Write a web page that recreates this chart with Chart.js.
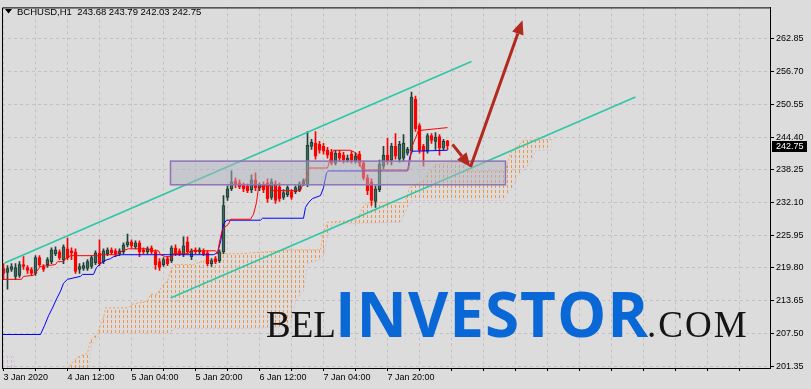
<!DOCTYPE html>
<html>
<head>
<meta charset="utf-8">
<script src="https://cdn.jsdelivr.net/npm/chart.js@4.4.0/dist/chart.umd.min.js"></script>
<style>
  html, body { margin: 0; padding: 0; background: #dcdcdc; }
  #c { display: block; }
</style>
</head>
<body>
<canvas id="c" width="811" height="389"></canvas>
<script>
// BCHUSD H1 candles
const opens = [219.69,218.95,219.50,218.21,218.39,220.43,219.87,219.50,218.76,221.73,
  220.06,220.43,220.98,222.47,222.84,221.36,223.39,223.02,222.84,219.50,
  219.69,219.69,220.06,220.80,222.65,220.98,222.47,223.21,223.02,222.47,
  222.84,224.13,224.69,223.76,224.50,223.21,222.84,223.58,222.84,220.98,
  220.43,221.54,221.17,223.58,223.02,222.28,224.69,221.91,223.21,222.84,
  223.02,222.65,220.61,221.54,221.17,222.84,233.03,234.69,236.18,235.80,
  235.43,235.25,234.51,236.36,234.88,235.43,235.80,233.03,235.62,235.06,
  233.03,233.58,234.14,234.14,234.51,235.62,235.43,242.66,243.22,243.03,
  242.66,241.92,241.55,239.51,241.36,240.99,240.07,241.18,239.88,241.18,
  239.51,236.73,235.99,232.29,234.51,238.95,240.99,240.07,242.66,240.25,
  240.44,241.36,241.73,251.55,246.55,242.66,241.73,244.70,243.59,244.51,
  242.29,243.68];
const highs = [220.61,220.24,220.61,220.61,220.98,221.91,220.24,219.87,222.10,222.10,
  220.43,221.73,223.58,223.76,223.21,224.13,225.43,223.58,223.39,220.61,
  220.80,221.36,222.10,223.02,225.06,223.39,223.58,223.58,223.39,223.39,
  224.50,226.17,225.06,224.88,224.88,223.58,223.76,223.95,223.21,221.54,
  221.73,221.91,223.95,224.13,223.39,225.62,225.62,223.39,223.58,223.58,
  223.39,223.02,221.54,221.91,223.21,233.40,235.25,238.03,236.73,236.36,
  235.80,235.62,237.29,237.66,235.80,235.99,236.55,236.55,236.18,235.80,
  234.51,235.25,234.51,235.25,235.99,236.55,245.44,243.96,245.44,243.59,
  243.22,242.47,242.10,241.92,241.92,241.55,240.99,241.73,241.36,241.73,
  239.88,237.29,236.55,235.25,240.07,242.66,244.14,243.22,245.07,243.59,
  244.88,242.47,252.85,252.11,246.92,243.03,245.07,245.07,245.25,244.88,
  243.96,243.79];
const lows = [217.65,215.80,219.13,217.65,218.02,219.50,218.76,218.39,218.39,220.06,
  219.13,219.87,220.61,222.10,221.36,220.61,221.36,221.36,218.76,218.76,
  219.32,219.32,219.69,220.43,220.24,220.61,222.10,222.28,221.91,222.10,
  222.47,223.76,223.58,223.39,221.91,222.47,222.47,222.47,219.50,219.32,
  220.06,220.24,220.80,222.10,222.10,221.91,222.47,221.36,222.47,222.47,
  222.10,220.24,220.06,220.61,220.80,222.47,232.47,234.32,234.88,234.69,
  234.14,233.95,233.95,234.32,234.32,233.95,232.10,232.66,231.91,232.29,
  232.66,233.21,232.66,233.77,234.14,235.25,235.06,242.10,240.25,241.36,
  241.18,240.44,239.14,239.14,239.88,239.51,239.70,239.51,239.51,238.95,
  236.36,233.58,231.54,231.17,234.14,238.40,239.32,239.14,240.25,239.70,
  239.88,240.99,241.36,245.44,241.36,238.95,241.36,243.22,242.10,240.99,
  241.92,242.03];
const closes = [218.76,219.69,220.06,219.87,220.43,220.06,219.32,218.76,221.73,220.43,
  219.50,221.36,223.21,223.21,221.73,223.76,221.73,222.65,219.13,220.06,
  220.24,220.98,221.73,222.65,220.61,223.02,223.21,222.65,222.47,223.02,
  224.13,224.69,223.95,224.50,222.84,222.84,223.39,222.84,220.43,219.87,
  221.36,220.61,223.58,222.47,222.47,223.95,222.84,223.02,222.84,223.21,
  222.47,220.61,221.17,220.98,222.84,231.54,234.69,235.99,235.43,235.06,
  234.69,234.32,236.36,234.88,235.43,234.51,232.84,235.99,232.47,232.84,
  233.95,234.88,233.03,234.88,235.62,236.18,242.84,243.40,240.81,241.92,
  241.73,240.99,239.51,241.36,240.44,240.07,240.44,240.07,240.81,239.51,
  236.73,234.32,232.47,234.69,239.32,240.99,239.88,242.66,240.81,243.03,
  243.22,242.10,251.92,245.99,241.92,241.73,244.70,243.77,244.33,242.29,
  243.59,242.75];

// Ichimoku lines, [bar index, price] break points
const tenkan = [[-0.5,217.65],[4.5,217.65],[5,218.21],[7.5,218.39],[8.25,219.13],[9.25,220.06],[13,220.43],[13.5,220.98],[15,220.98],[15.5,221.54],[16.75,222.10],[23.5,222.10],[24.25,222.28],[28,222.28],[28.75,222.47],[29.75,223.02],[31.25,223.39],[36.25,223.39],[36.75,223.02],[38.75,223.02],[39.25,222.28],[40.5,221.91],[42.25,221.91],[42.5,222.47],[46.25,222.47],[46.75,223.02],[53,223.02],[53.5,222.47],[54,224.69],[54.75,227.10],[56.25,228.02],[56.75,228.95],[61.75,228.95],[62.5,229.88],[63.25,232.10],[63.75,234.88],[64.75,235.25],[66.75,235.25],[67,234.32],[74.25,234.32],[74.75,235.43],[75.75,236.73],[76.25,238.58],[81,238.58],[81.75,240.44],[82.5,241.92],[86.75,241.92],[88.25,241.36],[88.75,239.88],[89.75,238.21],[101.25,238.21],[102.25,242.84],[103.75,245.62],[108.5,245.99],[111,246.18]];
const kijun = [[-0.5,207.28],[9.25,207.28],[10.25,208.94],[11.25,210.80],[12.25,212.28],[13.25,213.95],[14.25,215.43],[15,216.91],[16,217.65],[19.25,218.21],[19.75,218.58],[22.5,218.58],[23.25,219.87],[24.25,220.61],[25.25,221.17],[26.75,221.54],[27.5,221.91],[29.25,222.28],[52.5,222.28],[53.5,222.65],[54.25,224.69],[55,228.02],[55.75,228.77],[64.25,228.77],[64.75,229.14],[75,229.14],[75.5,231.17],[76.25,232.10],[77.25,232.84],[79.25,233.40],[80,234.88],[80.75,237.66],[81.25,238.03],[101,238.03],[101.5,240.44],[102,241.73],[111,241.92]];
const spanA = [[-0.5,198.76],[14.25,199.68],[18.5,203.02],[21,203.76],[21.75,206.17],[23.5,207.46],[25,210.43],[25.5,212.28],[31,212.28],[32.5,213.02],[36,213.57],[36.75,214.87],[38.5,214.87],[40,216.72],[41,217.28],[41.75,219.13],[42.5,220.43],[47.5,220.43],[49.25,220.98],[52.5,221.36],[53.5,222.47],[59.25,222.47],[66,222.84],[71,223.21],[79.25,223.21],[80,226.54],[81,228.40],[88.5,228.77],[89.75,231.17],[91,232.10],[100.5,232.10],[101.5,234.88],[105,236.18],[106,237.66],[108,239.14],[111,239.51],[115,239.88],[116,238.03],[125.5,238.03],[126.75,241.36],[128,242.29],[130,243.77],[137,243.96]];
const spanB = [[-0.5,203.20],[2.5,203.20],[3,199.20],[21,199.20],[22,205.24],[24.25,207.46],[41.75,207.46],[42.5,208.39],[59.25,208.39],[71.75,208.76],[73,213.57],[75,215.43],[76,220.61],[79.25,221.36],[80.25,222.47],[81,225.80],[82.25,228.02],[99.25,228.40],[100.5,230.25],[101.75,232.47],[125,232.47],[127.5,235.25],[128.5,237.10],[131.75,239.51],[133,241.92],[137,241.92]];

// drawn objects
const upperChannel = [[0.25,220.71],[117,258.59]];
const lowerChannel = [[41.75,214.13],[158,251.92]];
const zoneX = [41.75, 125.5];
const zoneY = [235.43, 239.88];
const arrowShort = [[112.25,243.03],[116.75,238.77]];
const arrowLong = [[116.75,238.77],[129.75,266.37]];

const priceTicks = [201.35,207.50,213.65,219.80,225.95,232.10,238.25,244.40,250.55,256.70,262.85];
const xGrid = [0,8,16,24,32,40,48,56,64,72,80,88,96,104,112,120,128,136,144,152,160,168,176,184];
const xTickIdx = [0,16,32,48,64,80,96];
const xTickLabels = ['3 Jan 2020','4 Jan 12:00','5 Jan 04:00','5 Jan 20:00','6 Jan 12:00','7 Jan 04:00','7 Jan 20:00'];
const headerText = 'BCHUSD,H1  243.68 243.79 242.03 242.75';
const lastPrice = closes[closes.length - 1];

const FONT = '"Liberation Sans", Arial, sans-serif';
const cv = document.getElementById('c');
const ctx0 = cv.getContext('2d');

// vertical dotted hatch, one column per bar
function hatch(color) {
  const t = document.createElement('canvas');
  t.width = 4; t.height = 5;
  const g = t.getContext('2d');
  g.fillStyle = color;
  g.fillRect(3, 0, 1, 3);
  return ctx0.createPattern(t, 'repeat');
}
const pts = (a) => a.map(p => ({x: p[0], y: p[1]}));
const isUp = (i) => closes[i] >= opens[i];

function arrow(ctx, x, y, seg) {
  const x0 = x.getPixelForValue(seg[0][0]), y0 = y.getPixelForValue(seg[0][1]);
  const x1 = x.getPixelForValue(seg[1][0]), y1 = y.getPixelForValue(seg[1][1]);
  const ang = Math.atan2(y1 - y0, x1 - x0);
  const len = 14, half = 6;
  const bx = x1 - Math.cos(ang) * len, by = y1 - Math.sin(ang) * len;
  ctx.strokeStyle = '#b3291f';
  ctx.fillStyle = '#b3291f';
  ctx.lineWidth = 3;
  ctx.beginPath(); ctx.moveTo(x0, y0); ctx.lineTo(bx, by); ctx.stroke();
  ctx.beginPath();
  ctx.moveTo(x1, y1);
  ctx.lineTo(bx + Math.sin(ang) * half, by - Math.cos(ang) * half);
  ctx.lineTo(bx - Math.sin(ang) * half, by + Math.cos(ang) * half);
  ctx.closePath(); ctx.fill();
}

const overlay = {
  id: 'overlay',
  beforeDraw(chart) {
    const c = chart.ctx;
    c.save(); c.fillStyle = '#dcdcdc'; c.fillRect(0, 0, chart.width, chart.height); c.restore();
  },
  afterDatasetsDraw(chart) {
    const {ctx, chartArea: a, scales: {x, y}} = chart;
    ctx.save();
    ctx.beginPath(); ctx.rect(a.left, a.top, a.right - a.left, a.bottom - a.top); ctx.clip();
    // support zone
    const rx0 = x.getPixelForValue(zoneX[0]), rx1 = x.getPixelForValue(zoneX[1]);
    const ry0 = y.getPixelForValue(zoneY[1]), ry1 = y.getPixelForValue(zoneY[0]);
    ctx.fillStyle = 'rgba(178,178,192,0.5)';
    ctx.fillRect(rx0, ry0, rx1 - rx0, ry1 - ry0);
    ctx.strokeStyle = '#8e74b4'; ctx.lineWidth = 1.5;
    ctx.strokeRect(rx0, ry0, rx1 - rx0, ry1 - ry0);
    arrow(ctx, x, y, arrowShort);
    arrow(ctx, x, y, arrowLong);
    // watermark
    ctx.textBaseline = 'alphabetic';
    ctx.fillStyle = '#151515';
    ctx.font = '37px "Liberation Serif", serif';
    ctx.fillText('BEL', 266, 337);
    ctx.letterSpacing = '2px';
    ctx.fillText('.COM', 647, 337);
    ctx.letterSpacing = '1px';
    ctx.fillStyle = '#0a68d6';
    ctx.font = 'bold 62px "Open Sans", sans-serif';
    ctx.fillText('INVESTOR', 335, 337);
    ctx.letterSpacing = '0px';
    ctx.restore();
  },
  afterDraw(chart) {
    const {ctx, chartArea: a, scales: {y}} = chart;
    ctx.save();
    ctx.strokeStyle = '#000'; ctx.lineWidth = 1;
    ctx.beginPath();
    ctx.moveTo(a.left + 0.5, a.bottom); ctx.lineTo(a.left + 0.5, a.top + 0.5); ctx.lineTo(a.right, a.top + 0.5);
    ctx.stroke();
    // header
    ctx.fillStyle = '#000';
    ctx.beginPath(); ctx.moveTo(5, 9); ctx.lineTo(12, 9); ctx.lineTo(8.5, 13.5); ctx.closePath(); ctx.fill();
    ctx.font = '9.5px ' + FONT;
    ctx.textBaseline = 'alphabetic';
    ctx.fillText(headerText, 17, 15);
    // last price box
    const py = Math.round(y.getPixelForValue(lastPrice));
    ctx.fillStyle = '#000';
    ctx.fillRect(a.right + 2, py - 5, 35, 11);
    ctx.fillStyle = '#fff';
    ctx.font = '9px ' + FONT;
    ctx.textBaseline = 'middle';
    ctx.fillText(lastPrice.toFixed(2), a.right + 6, py + 0.5);
    ctx.restore();
  }
};

new Chart(ctx0, {
  type: 'bar',
  data: {
    datasets: [
      { type: 'line', data: pts(spanA), borderColor: '#f4a460', borderWidth: 1, borderDash: [2, 2],
        pointRadius: 0, fill: { target: 1, above: hatch('#ee9548'), below: hatch('#d4b0d4') }, order: 20 },
      { type: 'line', data: pts(spanB), borderColor: '#d8bfd8', borderWidth: 1, borderDash: [2, 2],
        pointRadius: 0, fill: false, order: 19 },
      { type: 'bar', data: highs.map((h, i) => ({x: i, y: [lows[i], h]})), barThickness: 1, grouped: false,
        backgroundColor: (c) => isUp(c.dataIndex) ? '#22403a' : '#ff0000', order: 8 },
      { type: 'bar', data: opens.map((o, i) => ({x: i, y: [o, closes[i]]})), barThickness: 3, grouped: false,
        minBarLength: 1, borderWidth: 1, borderSkipped: false,
        backgroundColor: (c) => isUp(c.dataIndex) ? '#3c6a5a' : '#ff0000',
        borderColor: (c) => isUp(c.dataIndex) ? '#1d3a32' : '#ff0000', order: 7 },
      { type: 'line', data: pts(kijun), borderColor: '#0000ff', borderWidth: 1, pointRadius: 0, order: 4 },
      { type: 'line', data: pts(tenkan), borderColor: '#ff0000', borderWidth: 1, pointRadius: 0, order: 3 },
      { type: 'line', data: pts(upperChannel), borderColor: '#2fc6a6', borderWidth: 1.6, pointRadius: 0, order: 1 },
      { type: 'line', data: pts(lowerChannel), borderColor: '#2fc6a6', borderWidth: 1.6, pointRadius: 0, order: 1 }
    ]
  },
  options: {
    responsive: false,
    animation: false,
    devicePixelRatio: 1,
    events: [],
    layout: { padding: { left: 2, top: 2, right: 0, bottom: 0 } },
    plugins: { legend: { display: false }, tooltip: { enabled: false } },
    scales: {
      x: {
        type: 'linear', min: -0.375, max: 191.625, offset: false,
        afterBuildTicks: (s) => { s.ticks = xGrid.map(v => ({value: v})); },
        afterFit: (s) => { s.height = 21; },
        ticks: {
          autoSkip: false, maxRotation: 0, minRotation: 0, align: 'start', padding: 1,
          color: '#000', font: { family: FONT, size: 9 },
          callback: (v) => { const k = xTickIdx.indexOf(v); return k >= 0 ? xTickLabels[k] : ''; }
        },
        grid: { color: '#c2c2c2', tickColor: '#000', tickLength: 3, offset: false },
        border: { display: true, color: '#000', width: 1, dash: [3, 3] }
      },
      y: {
        type: 'linear', position: 'right', min: 200.98, max: 268.78,
        afterBuildTicks: (s) => { s.ticks = priceTicks.map(v => ({value: v})); },
        afterFit: (s) => { s.width = 41; },
        ticks: { color: '#000', font: { family: FONT, size: 9 }, padding: 2,
          callback: (v) => Number(v).toFixed(2) },
        grid: { color: '#c2c2c2', tickColor: '#000', tickLength: 4 },
        border: { display: true, color: '#000', width: 1, dash: [3, 3] }
      }
    }
  },
  plugins: [overlay]
});
</script>
</body>
</html>
